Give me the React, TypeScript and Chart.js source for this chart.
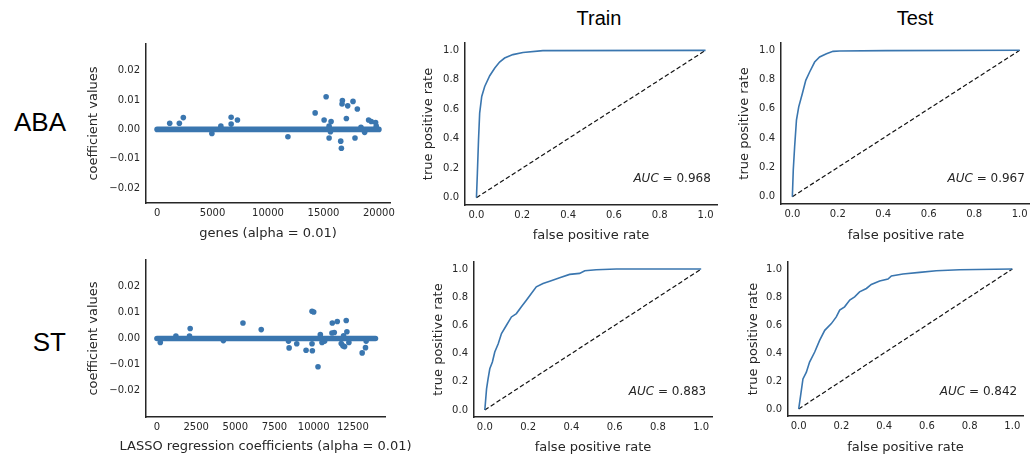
import React, { useEffect, useRef } from "react";
import { Chart, registerables } from "chart.js";

Chart.register(...registerables);

const FONT = "'DejaVu Sans', sans-serif";
const TITLE_FONT = "'Liberation Sans', Arial, sans-serif";
const TEXT = "#262626";
const BLUE = "#3a76af";

// ---------- LASSO coefficients (non-zero genes) ----------
const abaGeneIdx = [1138, 2006, 2365, 4940, 5750, 6677, 6677, 7246, 11796, 14251, 15060, 15240, 15509, 15689, 15509, 15629, 16557, 16617, 16707, 16677, 17066, 17186, 17665, 17844, 18054, 18383, 18713, 19072, 19311, 19701, 19760];
const abaCoef = [0.0021, 0.0021, 0.004, -0.0014, 0.0011, 0.0041, 0.0018, 0.0032, -0.0025, 0.0056, 0.0032, 0.0111, -0.0029, 0.0027, 0.0011, -0.0008, -0.004, -0.0064, 0.0098, 0.0086, 0.0037, 0.008, 0.0095, -0.0029, 0.0069, 0.0007, -0.001, 0.0032, 0.0027, 0.0023, 0.0011];
const abaZeroBand = [0, 20000]; // first / last gene index (all zero coefficients in between)

const stGeneIdx = [212, 1208, 2076, 2119, 4237, 5487, 6653, 8390, 8432, 8919, 9513, 9894, 10000, 9915, 9894, 10275, 10424, 10424, 10530, 10700, 11165, 11186, 11313, 11504, 11758, 11907, 11864, 11970, 12076, 12119, 12246, 13093, 13305, 13347];
const stCoef = [-0.0015, 0.0009, 0.0009, 0.0038, -0.0008, 0.0059, 0.0034, -0.001, -0.0036, -0.002, -0.0045, 0.0104, 0.0101, -0.0047, -0.002, -0.0108, 0.0015, 0.0006, -0.0015, -0.001, 0.0021, 0.0059, 0.0023, 0.0065, -0.0019, 0.001, -0.0028, -0.0031, 0.0069, 0.0026, -0.0015, -0.0055, -0.0035, -0.001];
const stZeroBand = [0, 13940];

// ---------- ROC curves ----------
const trainAbaFpr = [0, 0.004, 0.009, 0.014, 0.023, 0.036, 0.058, 0.08, 0.101, 0.123, 0.159, 0.203, 0.29, 1.0];
const trainAbaTpr = [0, 0.166, 0.392, 0.574, 0.687, 0.755, 0.828, 0.88, 0.921, 0.948, 0.971, 0.986, 0.998, 1.0];

const testAbaFpr = [0, 0.004, 0.01, 0.018, 0.028, 0.044, 0.059, 0.076, 0.098, 0.12, 0.15, 0.179, 0.208, 0.41, 1.0];
const testAbaTpr = [0, 0.182, 0.341, 0.523, 0.614, 0.705, 0.795, 0.852, 0.92, 0.955, 0.977, 0.993, 0.995, 0.998, 1.0];

const trainStFpr = [0, 0.008, 0.015, 0.023, 0.035, 0.046, 0.062, 0.077, 0.1, 0.123, 0.146, 0.169, 0.192, 0.215, 0.238, 0.269, 0.3, 0.346, 0.392, 0.438, 0.462, 0.515, 0.608, 1.0];
const trainStTpr = [0, 0.15, 0.221, 0.292, 0.34, 0.411, 0.47, 0.542, 0.601, 0.66, 0.684, 0.732, 0.779, 0.827, 0.874, 0.898, 0.914, 0.938, 0.962, 0.969, 0.988, 0.995, 1.0, 1.0];

const testStFpr = [0, 0.009, 0.02, 0.036, 0.051, 0.075, 0.098, 0.122, 0.153, 0.176, 0.192, 0.215, 0.239, 0.262, 0.285, 0.317, 0.34, 0.379, 0.418, 0.434, 0.488, 0.566, 0.644, 0.753, 1.0];
const testStTpr = [0, 0.096, 0.215, 0.263, 0.335, 0.407, 0.49, 0.562, 0.61, 0.658, 0.706, 0.73, 0.778, 0.801, 0.837, 0.861, 0.89, 0.914, 0.928, 0.95, 0.964, 0.976, 0.988, 0.995, 1.0];

const chanceLine = [0, 1];

const aucTrainAba = "0.968";
const aucTestAba = "0.967";
const aucTrainSt = "0.883";
const aucTestSt = "0.842";

// ---------- ticks ----------
const abaXTicks = [0, 5000, 10000, 15000, 20000];
const stXTicks = [0, 2500, 5000, 7500, 10000, 12500];
const coefYTicks = [-0.02, -0.01, 0, 0.01, 0.02];
const rocTicks = [0, 0.2, 0.4, 0.6, 0.8, 1.0];

// ---------- layout helpers ----------
const TITLE_LH = 13 * 1.2;
const PAD_TOP = 14;

type Geo = {
  plot: { l: number; t: number; r: number; b: number };
  yTitleX: number;
  xTitleY: number;
  padRight: number;
};

type Box = {
  left: number;
  top: number;
  width: number;
  height: number;
  yW: number;
  xH: number;
  padRight: number;
  titleY: number;
};

function canvasBox(g: Geo): Box {
  const left = Math.round(g.yTitleX - TITLE_LH / 2);
  const top = Math.round(g.plot.t - PAD_TOP);
  const right = Math.round(g.plot.r + g.padRight);
  const bottom = Math.round(g.xTitleY + TITLE_LH / 2);
  return {
    left,
    top,
    width: right - left,
    height: bottom - top,
    yW: Math.round(g.plot.l) - left,
    xH: bottom - Math.round(g.plot.b),
    padRight: right - Math.round(g.plot.r),
    titleY: g.xTitleY - top,
  };
}

const minus = (s: string) => s.replace("-", "\u2212");

function aucPlugin(value: string) {
  return {
    id: "auc",
    afterDatasetsDraw(chart: any) {
      const { ctx, scales } = chart;
      const px = scales.x.getPixelForValue(1.023);
      const py = scales.y.getPixelForValue(0.125);
      ctx.save();
      ctx.fillStyle = TEXT;
      ctx.textBaseline = "middle";
      ctx.textAlign = "left";
      const italic = `italic 12px ${FONT}`;
      const normal = `12px ${FONT}`;
      ctx.font = italic;
      const w1 = ctx.measureText("AUC").width;
      ctx.font = normal;
      const rest = " = " + value;
      const w2 = ctx.measureText(rest).width;
      const x0 = px - w1 - w2;
      ctx.font = italic;
      ctx.fillText("AUC", x0, py);
      ctx.font = normal;
      ctx.fillText(rest, x0 + w1, py);
      ctx.restore();
    },
  };
}

// x-axis title drawn without Chart.js' maxWidth squeeze (wider than the plot)
function wideXTitlePlugin(text: string, y: number) {
  return {
    id: "wideXTitle",
    afterDraw(chart: any) {
      const { ctx, chartArea } = chart;
      ctx.save();
      ctx.fillStyle = TEXT;
      ctx.font = `13px ${FONT}`;
      ctx.textAlign = "center";
      ctx.textBaseline = "middle";
      ctx.fillText(text, (chartArea.left + chartArea.right) / 2, y);
      ctx.restore();
    },
  };
}

function buildOptions(
  box: Box,
  xr: number[],
  yr: number[],
  xTicks: number[],
  yTicks: number[],
  xTitle: string,
  yTitle: string,
  xFmt: (v: number) => string,
  yFmt: (v: number) => string,
  showXTitle = true
): any {
  const tickFont = { size: 10, family: FONT };
  const titleFont = { size: 13, family: FONT };
  return {
    responsive: false,
    animation: false,
    devicePixelRatio: 1,
    layout: { padding: { left: 0, top: PAD_TOP, right: box.padRight, bottom: 0 } },
    plugins: { legend: { display: false }, tooltip: { enabled: false } },
    scales: {
      x: {
        type: "linear",
        min: xr[0],
        max: xr[1],
        afterBuildTicks: (s: any) => {
          s.ticks = xTicks.map((v) => ({ value: v }));
        },
        afterFit: (s: any) => {
          s.height = box.xH;
        },
        grid: { display: false, drawTicks: false },
        border: { display: true, color: TEXT, width: 1.5 },
        ticks: {
          padding: 4,
          color: TEXT,
          font: tickFont,
          autoSkip: false,
          maxRotation: 0,
          callback: (v: any) => xFmt(Number(v)),
        },
        title: { display: showXTitle, text: xTitle, color: TEXT, font: titleFont, padding: 0 },
      },
      y: {
        type: "linear",
        min: yr[0],
        max: yr[1],
        afterBuildTicks: (s: any) => {
          s.ticks = yTicks.map((v) => ({ value: v }));
        },
        afterFit: (s: any) => {
          s.width = box.yW;
        },
        grid: { display: false, drawTicks: false },
        border: { display: true, color: TEXT, width: 1.5 },
        ticks: {
          padding: 6,
          color: TEXT,
          font: tickFont,
          autoSkip: false,
          callback: (v: any) => yFmt(Number(v)),
        },
        title: { display: true, text: yTitle, color: TEXT, font: titleFont, padding: 0 },
      },
    },
  };
}

function toPoints(xs: number[], ys: number[]) {
  return xs.map((x, i) => ({ x, y: ys[i] }));
}

function coefDatasets(idx: number[], coef: number[], band: number[]) {
  return [
    {
      data: [
        { x: band[0], y: 0 },
        { x: band[1], y: 0 },
      ],
      showLine: true,
      borderColor: BLUE,
      borderWidth: 5.6,
      borderCapStyle: "round",
      pointRadius: 0,
    },
    {
      data: toPoints(idx, coef),
      showLine: false,
      pointRadius: 2.8,
      pointBackgroundColor: BLUE,
      pointBorderWidth: 0,
      backgroundColor: BLUE,
    },
  ];
}

function rocDatasets(fpr: number[], tpr: number[]) {
  return [
    {
      data: toPoints(fpr, tpr),
      showLine: true,
      borderColor: BLUE,
      borderWidth: 1.6,
      pointRadius: 0,
      tension: 0,
    },
    {
      data: toPoints(chanceLine, chanceLine),
      showLine: true,
      borderColor: "#111111",
      borderWidth: 1.2,
      borderDash: [4.5, 2.5],
      pointRadius: 0,
    },
  ];
}

type PanelProps = {
  geo: Geo;
  make: (box: Box) => any;
};

function Panel({ geo, make }: PanelProps) {
  const ref = useRef<HTMLCanvasElement | null>(null);
  const box = canvasBox(geo);
  useEffect(() => {
    if (!ref.current) return;
    const chart = new Chart(ref.current, make(box));
    return () => chart.destroy();
  }, []);
  return (
    <canvas
      ref={ref}
      width={box.width}
      height={box.height}
      style={{ position: "absolute", left: box.left, top: box.top, width: box.width, height: box.height }}
    />
  );
}

const fmtInt = (v: number) => String(Math.round(v));
const fmt2 = (v: number) => minus(v.toFixed(2));
const fmt1 = (v: number) => minus(v.toFixed(1));

const geoAbaCoef: Geo = { plot: { l: 146, t: 44, r: 390, b: 203 }, yTitleX: 93.5, xTitleY: 233.5, padRight: 14 };
const geoTrainAba: Geo = { plot: { l: 465, t: 43, r: 717, b: 205 }, yTitleX: 428.5, xTitleY: 235, padRight: 14 };
const geoTestAba: Geo = { plot: { l: 781, t: 43, r: 1031, b: 204 }, yTitleX: 745, xTitleY: 235, padRight: 14 };
const geoStCoef: Geo = { plot: { l: 146, t: 260, r: 385, b: 417 }, yTitleX: 93.5, xTitleY: 447, padRight: 32 };
const geoTrainSt: Geo = { plot: { l: 474, t: 262, r: 712, b: 417 }, yTitleX: 438.5, xTitleY: 447, padRight: 14 };
const geoTestSt: Geo = { plot: { l: 788, t: 262, r: 1023, b: 416 }, yTitleX: 753.5, xTitleY: 447, padRight: 14 };

const ROC_RANGE = [-0.05, 1.05];

function rocMake(fpr: number[], tpr: number[], auc: string) {
  return (box: Box) => ({
    type: "scatter",
    data: { datasets: rocDatasets(fpr, tpr) },
    options: buildOptions(box, ROC_RANGE, ROC_RANGE, rocTicks, rocTicks, "false positive rate", "true positive rate", fmt1, fmt1),
    plugins: [aucPlugin(auc)],
  });
}

const labelStyle: React.CSSProperties = {
  position: "absolute",
  fontFamily: TITLE_FONT,
  color: "#000",
  lineHeight: 1,
  whiteSpace: "nowrap",
};

const stXTitle = "LASSO regression coefficients (alpha = 0.01)";

export default function App() {
  return (
    <div
      style={{
        position: "absolute",
        left: 0,
        top: 0,
        width: 1030,
        height: 456,
        overflow: "hidden",
        background: "#fff",
      }}
    >
      <div style={{ ...labelStyle, fontSize: 20, left: 599, top: 18, transform: "translate(-50%, -50%)" }}>Train</div>
      <div style={{ ...labelStyle, fontSize: 20, left: 915, top: 18, transform: "translate(-50%, -50%)" }}>Test</div>
      <div style={{ ...labelStyle, fontSize: 26, right: 1030 - 66, top: 122, transform: "translateY(-50%)" }}>ABA</div>
      <div style={{ ...labelStyle, fontSize: 26, right: 1030 - 66, top: 342, transform: "translateY(-50%)" }}>ST</div>

      <Panel
        geo={geoAbaCoef}
        make={(box) => ({
          type: "scatter",
          data: { datasets: coefDatasets(abaGeneIdx, abaCoef, abaZeroBand) },
          options: buildOptions(box, [-1000, 21000], [-0.025, 0.029], abaXTicks, coefYTicks, "genes (alpha = 0.01)", "coefficient values", fmtInt, fmt2),
        })}
      />
      <Panel geo={geoTrainAba} make={rocMake(trainAbaFpr, trainAbaTpr, aucTrainAba)} />
      <Panel geo={geoTestAba} make={rocMake(testAbaFpr, testAbaTpr, aucTestAba)} />
      <Panel
        geo={geoStCoef}
        make={(box) => ({
          type: "scatter",
          data: { datasets: coefDatasets(stGeneIdx, stCoef, stZeroBand) },
          options: buildOptions(box, [-700, 14550], [-0.03, 0.03], stXTicks, coefYTicks, stXTitle, "coefficient values", fmtInt, fmt2, false),
          plugins: [wideXTitlePlugin(stXTitle, box.titleY)],
        })}
      />
      <Panel geo={geoTrainSt} make={rocMake(trainStFpr, trainStTpr, aucTrainSt)} />
      <Panel geo={geoTestSt} make={rocMake(testStFpr, testStTpr, aucTestSt)} />
    </div>
  );
}
